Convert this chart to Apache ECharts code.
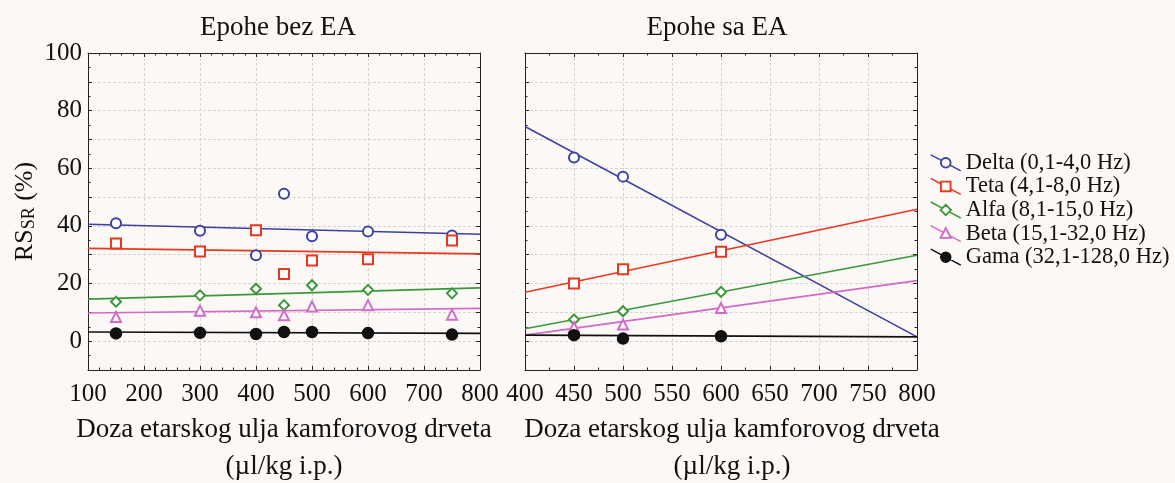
<!DOCTYPE html>
<html>
<head>
<meta charset="utf-8">
<script src="https://cdn.jsdelivr.net/npm/echarts@6/dist/echarts.min.js"></script>
<style>
html,body{margin:0;padding:0;background:#fbf8f6;}
#chart{width:1175px;height:483px;}
</style>
</head>
<body>
<div id="chart"></div>
<script>
// ---- data ----
const bandNames = ['Delta (0,1-4,0 Hz)', 'Teta (4,1-8,0 Hz)', 'Alfa (8,1-15,0 Hz)', 'Beta (15,1-32,0 Hz)', 'Gama (32,1-128,0 Hz)'];
const panelTitles = ['Epohe bez EA', 'Epohe sa EA'];
const xAxisTitle = 'Doza etarskog ulja kamforovog drveta\n(µl/kg i.p.)';

// Left panel: epochs without EA
const xLeft = [150, 300, 400, 450, 500, 600, 750];
const deltaLeft = [40.9, 38.3, 29.8, 51.2, 36.4, 38.1, 36.7];
const tetaLeft  = [33.9, 31.1, 38.5, 23.3, 28.0, 28.4, 34.9];
const alfaLeft  = [13.7, 15.9, 18.2, 12.5, 19.4, 17.8, 16.6];
const betaLeft  = [8.4, 10.6, 10.0, 9.0, 12.0, 12.5, 9.2];
const gamaLeft  = [2.7, 2.9, 2.5, 3.2, 3.2, 2.8, 2.3];
// fitted lines (left), values at x = 100 and x = 800
const fitXLeft = [100, 800];
const deltaFitLeft = [40.6, 37.1];
const tetaFitLeft  = [32.2, 30.3];
const alfaFitLeft  = [14.6, 18.5];
const betaFitLeft  = [9.8, 11.4];
const gamaFitLeft  = [3.2, 2.7];

// Right panel: epochs with EA
const xRight = [450, 500, 600];
const deltaRight = [63.7, 57.1, 36.9];
const tetaRight  = [20.0, 25.0, 31.0];
const alfaRight  = [7.5, 10.4, 17.1];
const betaRight  = [4.8, 5.8, 11.5];
const gamaRight  = [2.1, 0.9, 1.7];
// fitted lines (right), values at x = 400 and x = 800
const fitXRight = [400, 800];
const deltaFitRight = [74.5, 1.5];
const tetaFitRight  = [17.0, 45.8];
const alfaFitRight  = [4.3, 29.8];
const betaFitRight  = [2.1, 21.0];
const gamaFitRight  = [2.1, 1.5];

// ---- styles ----
const colors = ['#3b42a2', '#e8381f', '#3a983a', '#d36ac8', '#111111'];
const symbols = ['emptyCircle', 'emptyRect', 'emptyDiamond', 'emptyTriangle', 'circle'];
const symbolSizes = [10, 10, 10, 10, 11];
const FONT = 'Liberation Serif';

// legend icons: diagonal line with a hollow (or filled) marker in the middle
const legendIcons = [
  'path://M0,0 L10.59,5.65 M19.41,10.35 L30,16 M10,8 A5,5 0 1,1 20,8 A5,5 0 1,1 10,8 Z M10.4,8 A4.6,4.6 0 1,0 19.6,8 A4.6,4.6 0 1,0 10.4,8 Z',
  'path://M0,0 L10,5.33 M20,10.67 L30,16 M10,3 L20,3 L20,13 L10,13 Z M10.4,3.4 L10.4,12.6 L19.6,12.6 L19.6,3.4 Z',
  'path://M0,0 L11.41,6.09 M18.59,9.91 L30,16 M15,2.5 L20.5,8 L15,13.5 L9.5,8 Z M15,3 L10,8 L15,13 L20,8 Z',
  'path://M0,0 L12.55,6.69 M19.35,10.32 L30,16 M15,2 L20.5,12.5 L9.5,12.5 Z M15,2.9 L10.2,12.1 L19.8,12.1 Z',
  'path://M0,0 L30,16 M10,8 A5,5 0 1,1 20,8 A5,5 0 1,1 10,8 Z'
];

const leftPts = [deltaLeft, tetaLeft, alfaLeft, betaLeft, gamaLeft];
const leftFit = [deltaFitLeft, tetaFitLeft, alfaFitLeft, betaFitLeft, gamaFitLeft];
const rightPts = [deltaRight, tetaRight, alfaRight, betaRight, gamaRight];
const rightFit = [deltaFitRight, tetaFitRight, alfaFitRight, betaFitRight, gamaFitRight];

const series = [];
function addPanel(gi, xs, pts, fx, fits) {
  bandNames.forEach((name, k) => {
    series.push({
      type: 'line', name, xAxisIndex: gi * 2, yAxisIndex: gi * 2,
      data: fx.map((x, i) => [x, fits[k][i]]),
      symbol: symbols[k], symbolSize: symbolSizes[k], showSymbol: false,
      lineStyle: { color: colors[k], width: 1.6 },
      itemStyle: { color: colors[k], borderColor: colors[k], borderWidth: 1.5 },
      z: 2, silent: true
    });
  });
  bandNames.forEach((name, k) => {
    series.push({
      type: 'scatter', name, xAxisIndex: gi * 2, yAxisIndex: gi * 2,
      data: xs.map((x, i) => [x, pts[k][i]]),
      symbol: symbols[k], symbolSize: symbolSizes[k],
      itemStyle: { color: colors[k], borderColor: colors[k], borderWidth: 1.5, opacity: 1 },
      z: 3
    });
  });
}
addPanel(0, xLeft, leftPts, fitXLeft, leftFit);
addPanel(1, xRight, rightPts, fitXRight, rightFit);

const grids = [
  { left: 88, top: 53, width: 392, height: 317, outerBoundsMode: 'none', containLabel: false },
  { left: 525, top: 53, width: 392, height: 317, outerBoundsMode: 'none', containLabel: false }
];

const tickBase = { show: true, inside: true, length: 4, lineStyle: { color: '#222' } };
const minorBase = (n) => ({ show: true, splitNumber: n, length: 2.5, lineStyle: { color: '#222' } });
const splitBase = { show: true, lineStyle: { color: '#d4d4d4', width: 1, type: [3, 2] } };
const lineBase = { show: true, onZero: false, lineStyle: { color: '#222', width: 1 } };
const labelFont = { fontFamily: FONT, fontSize: 25, color: '#111' };

function xAxes(gi, min, max, interval, minorN, namePad) {
  return [
    {
      type: 'value', gridIndex: gi, position: 'bottom', min, max, interval,
      axisLine: lineBase, axisTick: tickBase, minorTick: minorBase(minorN),
      splitLine: splitBase,
      axisLabel: Object.assign({ margin: 12 }, labelFont),
      name: xAxisTitle, nameLocation: 'middle', nameGap: 38,
      nameTextStyle: { fontFamily: FONT, fontSize: 27, color: '#111', lineHeight: 37, padding: namePad }
    },
    {
      type: 'value', gridIndex: gi, position: 'top', min, max, interval,
      axisLine: lineBase, axisTick: tickBase, minorTick: minorBase(minorN),
      splitLine: { show: false }, axisLabel: { show: false }
    }
  ];
}
function yAxes(gi, showLabels) {
  const main = {
    type: 'value', gridIndex: gi, position: 'left', min: -10, max: 100, interval: 10,
    axisLine: lineBase, axisTick: tickBase, minorTick: minorBase(2),
    splitLine: splitBase,
    axisLabel: Object.assign({
      show: showLabels, margin: 6,
      formatter: (v) => (v >= 0 && v % 20 === 0) ? String(v) : ''
    }, labelFont)
  };
  if (showLabels) {
    main.name = '{a|RS}{b|SR}{a| (%)}';
    main.nameLocation = 'middle';
    main.nameGap = 41;
    main.nameTextStyle = {
      fontFamily: FONT, fontSize: 26, color: '#111',
      rich: {
        a: { fontFamily: FONT, fontSize: 26, color: '#111', lineHeight: 30, verticalAlign: 'middle' },
        b: { fontFamily: FONT, fontSize: 18, color: '#111', lineHeight: 30, verticalAlign: 'bottom', padding: [0, 0, 2, 0] }
      }
    };
  }
  return [
    main,
    {
      type: 'value', gridIndex: gi, position: 'right', min: -10, max: 100, interval: 10,
      axisLine: lineBase, axisTick: tickBase, minorTick: minorBase(2),
      splitLine: { show: false }, axisLabel: { show: false }
    }
  ];
}

const option = {
  backgroundColor: '#fbf8f6',
  animation: false,
  textStyle: { fontFamily: FONT },
  grid: grids,
  xAxis: [].concat(xAxes(0, 100, 800, 100, 5, [0, 0, 0, 0]), xAxes(1, 400, 800, 50, 2, [0, 0, 0, 22])),
  yAxis: [].concat(yAxes(0, true), yAxes(1, false)),
  legend: {
    orient: 'vertical', left: 925, top: 146, itemGap: 0,
    itemWidth: 30, itemHeight: 16,
    data: bandNames.map((name, k) => ({
      name, icon: legendIcons[k],
      itemStyle: { color: colors[k], borderColor: colors[k], borderWidth: 1.5 }
    })),
    textStyle: { fontFamily: FONT, fontSize: 22.5, color: '#111', lineHeight: 23.6 }
  },
  graphic: [
    { type: 'text', x: 278, y: 28, style: { text: panelTitles[0], fontFamily: FONT, fontSize: 27, fill: '#111', align: 'center', verticalAlign: 'middle' } },
    { type: 'text', x: 717, y: 28, style: { text: panelTitles[1], fontFamily: FONT, fontSize: 27, fill: '#111', align: 'center', verticalAlign: 'middle' } }
  ],
  series
};

const chart = echarts.init(document.getElementById('chart'), null, { renderer: 'canvas' });
chart.setOption(option);
</script>
</body>
</html>
